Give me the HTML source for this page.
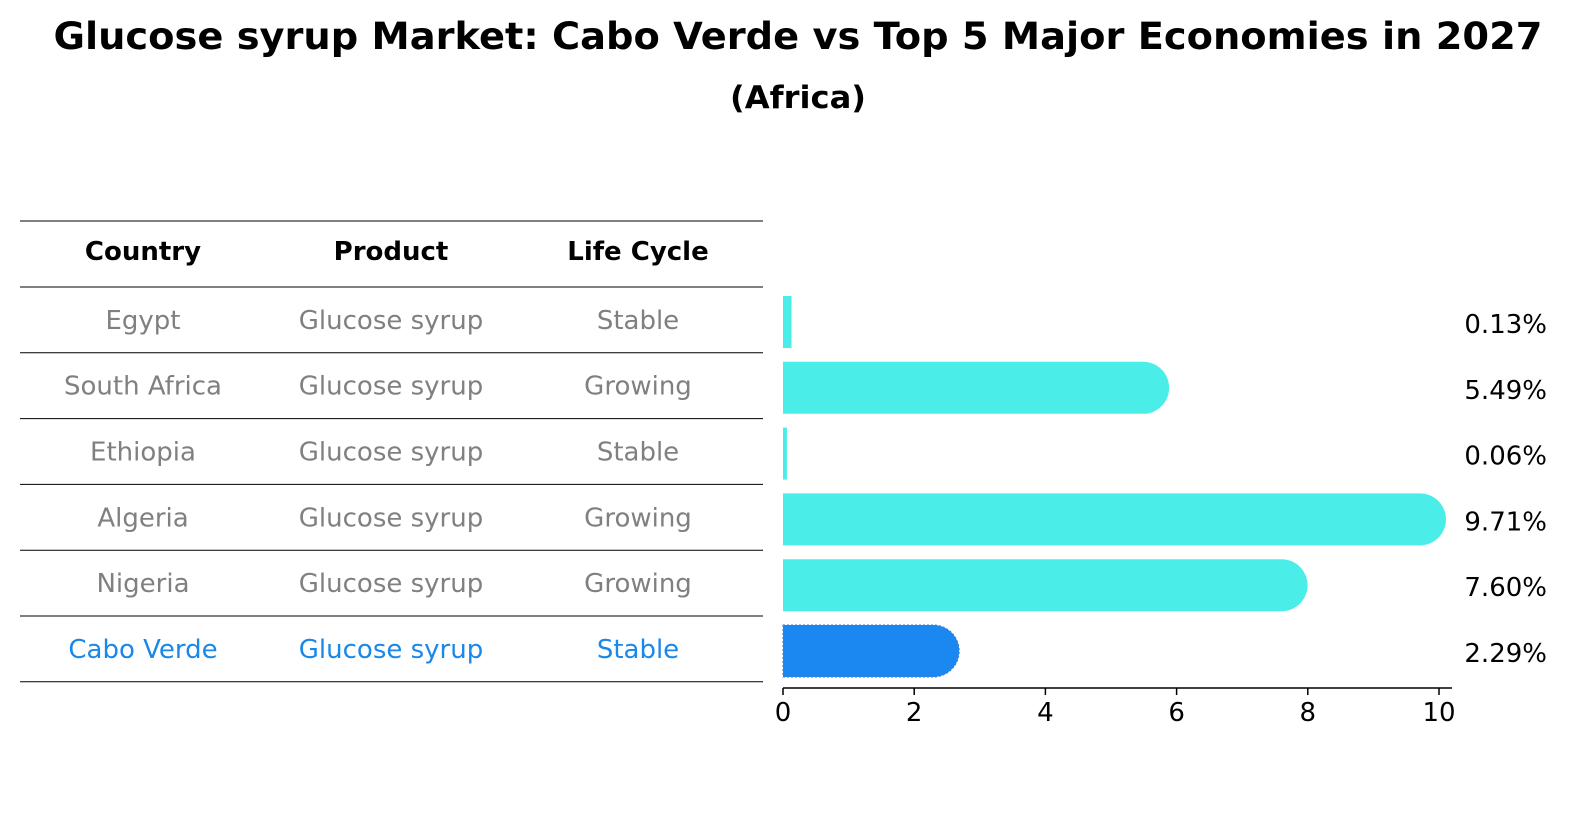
<!DOCTYPE html>
<html><head><meta charset="utf-8"><style>
html,body{margin:0;padding:0;background:#fff;overflow:hidden;width:1586px;height:823px;}
svg{display:block;}
svg text{font-family:"DejaVu Sans","Liberation Sans",sans-serif;}
</style></head><body>
<svg id="chart" width="1586" height="823" viewBox="0 0 1586 823" xmlns="http://www.w3.org/2000/svg">
<rect width="1586" height="823" fill="#fff"/>
<text x="798" y="49" text-anchor="middle" font-size="37" font-weight="bold" textLength="1489" lengthAdjust="spacingAndGlyphs">Glucose syrup Market: Cabo Verde vs Top 5 Major Economies in 2027</text>
<text x="798" y="108" text-anchor="middle" font-size="31" font-weight="bold" textLength="136" lengthAdjust="spacingAndGlyphs">(Africa)</text>
<g id="table"></g>
<g id="bars"></g>
<g id="axis"></g>
</svg>
<script>
const countries=["Egypt","South Africa","Ethiopia","Algeria","Nigeria","Cabo Verde"];
const products=["Glucose syrup","Glucose syrup","Glucose syrup","Glucose syrup","Glucose syrup","Glucose syrup"];
const lifeCycles=["Stable","Growing","Stable","Growing","Growing","Stable"];
const values=[0.13,5.49,0.06,9.71,7.60,2.29];
const valueLabels=["0.13%","5.49%","0.06%","9.71%","7.60%","2.29%"];
const xTicks=[0,2,4,6,8,10];
const headers=["Country","Product","Life Cycle"];

const NS="http://www.w3.org/2000/svg";
function mk(tag,attrs,parent){const e=document.createElementNS(NS,tag);for(const k in attrs)e.setAttribute(k,attrs[k]);parent.appendChild(e);return e;}
const x0=783,pxPer=65.6;
const xs=v=>x0+v*pxPer;
const rowY=i=>287+i*65.8;
const rowH=65.8;
const colX=[143,391,638];
const table=document.getElementById('table');
const bars=document.getElementById('bars');
const axis=document.getElementById('axis');

for(let i=0;i<=7;i++){
  const y=i===0?221:rowY(i-1);
  const l=mk('line',{x1:20,x2:763,y1:y,y2:y,stroke:'#000','stroke-width':1},table);
  
  
}
headers.forEach((h,j)=>{
  const t=mk('text',{x:colX[j],y:260,'text-anchor':'middle','font-size':26,'font-weight':'bold'},table);
  t.textContent=h;
  
  
});
countries.forEach((c,i)=>{
  const col=i===countries.length-1?'#1a88e8':'#808080';
  const cy=rowY(i)+rowH/2+9;
  [c,products[i],lifeCycles[i]].forEach((txt,j)=>{
    const t=mk('text',{x:colX[j],y:cy,'text-anchor':'middle','font-size':26,fill:col},table);
    t.textContent=txt;
    
    
  });
  const top=rowY(i)+9,h=52,r=26;
  const w=xs(values[i])-x0;
  const fill=i===countries.length-1?'#1a88f0':'#4bede8';
  let p;
  if(w>r){
    const xe=x0+w;
    p=mk('path',{d:`M${x0},${top} H${xe} A${r},${r} 0 0 1 ${xe},${top+h} H${x0} Z`,fill:fill},bars);
  } else {
    p=mk('rect',{x:x0,y:top,width:Math.max(w,1),height:h,fill:fill},bars);
  }
  if(i===countries.length-1){p.setAttribute('stroke','#3a7fd0');p.setAttribute('stroke-dasharray','2,2');}
  
  
  const vl=mk('text',{x:1547,y:top+h/2+11,'text-anchor':'end','font-size':26},bars);
  vl.textContent=valueLabels[i];
  
  
});
const al=mk('line',{x1:x0,x2:1452,y1:688,y2:688,stroke:'#000','stroke-width':1.5},axis);


xTicks.forEach(v=>{
  const tk=mk('line',{x1:xs(v),x2:xs(v),y1:688,y2:695,stroke:'#000','stroke-width':1.5},axis);
  
  
  const t=mk('text',{x:xs(v),y:721,'text-anchor':'middle','font-size':26},axis);
  t.textContent=v;
  
  
});
</script>
</body></html>
